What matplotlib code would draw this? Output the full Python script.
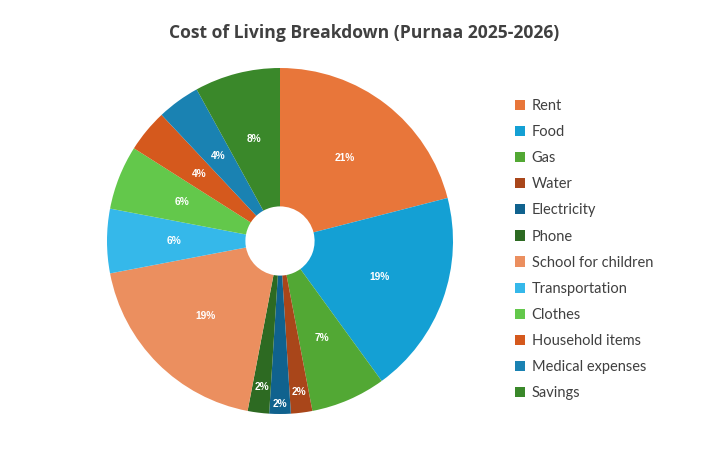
import numpy as np
import matplotlib
matplotlib.use("Agg")
import matplotlib.pyplot as plt
from matplotlib.patches import Patch

# data
categories = ["Rent", "Food", "Gas", "Water", "Electricity", "Phone",
              "School for children", "Transportation", "Clothes",
              "Household items", "Medical expenses", "Savings"]
shares = [21, 19, 7, 2, 2, 2, 19, 6, 6, 4, 4, 8]
colors = ["#E8763A", "#14A0D4", "#52A834", "#A9461A", "#10628E", "#2D6A22",
          "#EB8F5F", "#35B8EA", "#63C84B", "#D5591D", "#1A82B2", "#3A882A"]

title = "Cost of Living Breakdown (Purnaa 2025-2026)"

# label radius (fraction of pie radius); thin slices get pushed outward
label_r = [0.61, 0.61, 0.61, 0.88, 0.94, 0.85, 0.61, 0.61, 0.61, 0.61, 0.61, 0.61]

fig = plt.figure(figsize=(7.22, 4.49), dpi=100)
fig.patch.set_facecolor("white")

W, H = 722, 449
cx, cy, R = 280, 241, 173
ax = fig.add_axes([(cx - R) / W, (H - cy - R) / H, 2 * R / W, 2 * R / H])

wedges, _ = ax.pie(shares, colors=colors, startangle=90, counterclock=False,
                   wedgeprops=dict(width=0.8, linewidth=0))
ax.set_xlim(-1, 1)
ax.set_ylim(-1, 1)
ax.set_aspect("equal")

total = sum(shares)
for w, v, r in zip(wedges, shares, label_r):
    ang = np.deg2rad((w.theta1 + w.theta2) / 2)
    ax.text(r * np.cos(ang), r * np.sin(ang), f"{v / total * 100:.0f}%",
            ha="center", va="center", color="white", fontsize=7.3,
            fontweight="bold", family="Liberation Sans")

fig.text(0.504, 0.927, title, ha="center", va="center", fontsize=12.6,
         fontweight="bold", color="#404040", family="Open Sans")

handles = [Patch(facecolor=c, edgecolor="none") for c in colors]
leg = fig.legend(handles, categories, loc="upper left",
                 bbox_to_anchor=(0.705, 0.7925), frameon=False,
                 prop={"family": "Lato", "size": 10.5},
                 handlelength=0.7, handleheight=0.7, handletextpad=0.45,
                 labelspacing=0.83, borderaxespad=0)
for t in leg.get_texts():
    t.set_color("#404040")

fig.savefig("out.png", dpi=100, facecolor="white")
